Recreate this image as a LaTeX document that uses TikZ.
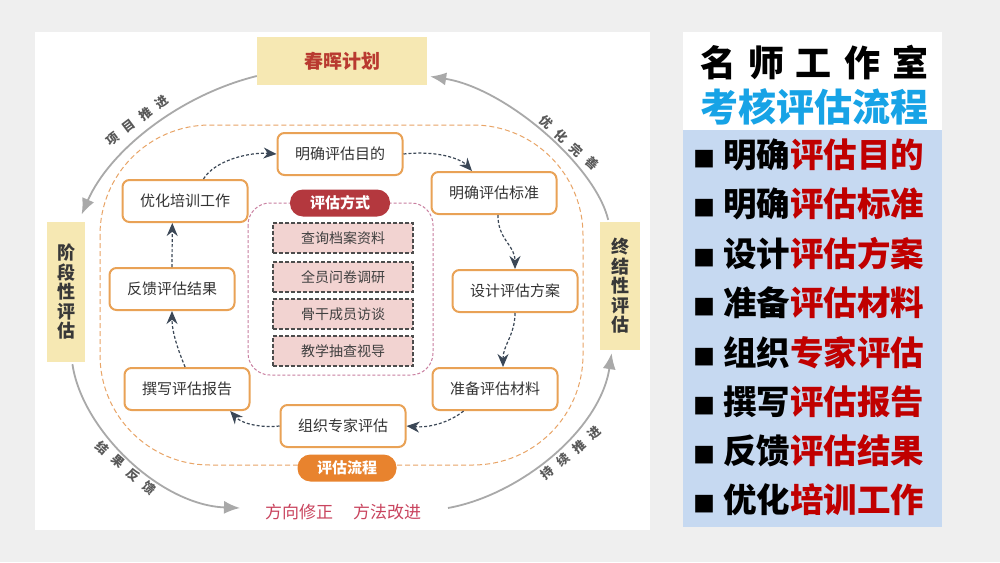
\documentclass[tikz,border=0pt]{standalone}
\usepackage{fontspec}
\setmainfont{Noto Sans CJK SC}
\usepackage{tikz}
\usetikzlibrary{arrows.meta}
\usetikzlibrary{positioning,calc}

\definecolor{bggrayc}{HTML}{EFEFEF}
\definecolor{boxorangec}{HTML}{E9A256}
\definecolor{flowlinec}{HTML}{E8A466}
\definecolor{flowfillc}{HTML}{E8832E}
\definecolor{yellowboxc}{HTML}{F6E8B3}
\definecolor{planredc}{HTML}{B93A30}
\definecolor{wayredc}{HTML}{B4383E}
\definecolor{waypinkc}{HTML}{F2D3D1}
\definecolor{wayframec}{HTML}{C97FA0}
\definecolor{arcgrayc}{HTML}{A9A9A9}
\definecolor{stepdarkc}{HTML}{3B4756}
\definecolor{fixredc}{HTML}{C9445E}
\definecolor{panelbluec}{HTML}{C6D9F1}
\definecolor{titlecyanc}{HTML}{17A3E6}
\definecolor{itemredc}{HTML}{C00000}

\tikzset{
  procbox/.style={draw=boxorangec, line width=2pt, fill=white, rounded corners=7pt,
    minimum width=125pt, minimum height=42pt, inner sep=0pt,
    font=\fontsize{15}{18}\selectfont, text=black!80},
  stagebox/.style={fill=yellowboxc, align=center, inner sep=0pt,
    font=\bfseries\fontsize{18}{19.5}\selectfont, text=black!78},
  waybox/.style={draw=black!70, dash pattern=on 4pt off 2pt, line width=1.5pt, fill=waypinkc,
    minimum width=140pt, minimum height=30pt, inner sep=0pt,
    font=\fontsize{14}{16}\selectfont, text=black!75},
  waypill/.style={fill=wayredc, rounded corners=13pt, minimum width=100pt, minimum height=27pt,
    inner sep=0pt, font=\bfseries\fontsize{15}{17}\selectfont, text=white},
  flowpill/.style={fill=flowfillc, rounded corners=13pt, minimum width=99pt, minimum height=27pt,
    inner sep=0pt, font=\bfseries\fontsize{15}{17}\selectfont, text=white},
  flowarrow/.style={draw=stepdarkc, line width=1.2pt, dash pattern=on 3pt off 2pt,
    -{Stealth[length=13pt,width=11pt]}},
  arcarrow/.style={draw=arcgrayc, line width=1.8pt, -{Latex[length=16pt,width=13pt]}},
  arclabel/.style={font=\bfseries\fontsize{12.5}{14}\selectfont, text=black!65, inner sep=0pt},
  fixtext/.style={font=\fontsize{17}{19}\selectfont, text=fixredc, inner sep=0pt},
  itemtext/.style={font=\bfseries\fontsize{33.5}{36}\selectfont, text=black, inner sep=0pt, anchor=west}
}

\begin{document}
\begin{tikzpicture}[x=1pt, y=-1pt]

 \def\gap{8pt};

	%background and panels
    \fill[bggrayc] (0,0) rectangle (1000,562);
    \useasboundingbox (0,0) rectangle (1000,562);
    \fill[white] (35,32) rectangle (650,530);
    \fill[white] (683,32) rectangle (942,130);
    \fill[panelbluec] (683,130) rectangle (942,527);

	%plan and stages
    \node[stagebox, minimum width=170pt, minimum height=48pt, text=planredc,
          font=\bfseries\fontsize{19}{22}\selectfont] (plan) at (342,61) {春晖计划};
    \node[stagebox, minimum width=38pt, minimum height=140pt] (stage) at (66,292) {阶\\段\\性\\评\\估};
    \node[stagebox, minimum width=40pt, minimum height=128pt] (final) at (620,286) {终\\结\\性\\评\\估};

    \coordinate (fbend) at (240,508);
    \coordinate (gostart) at (448,508);

	%outer arcs
    \draw[arcarrow, shorten >=8pt] (plan.190) .. controls (180,95) and (110,150) .. (stage.80);
    \draw[arcarrow, shorten <=2pt] (stage.-85) .. controls (82,430) and (160,505) .. (fbend);
    \draw[arcarrow, shorten >=3pt] (gostart) .. controls (520,495) and (600,430) .. (final.-97);
    \draw[arcarrow, shorten >=3pt, shorten <=2pt] (final.100) .. controls (595,165) and (505,88) .. (plan.-10);

    \node[arclabel, rotate=37] (lab1) at (137,120) {项\hspace{\gap}目\hspace{\gap}推\hspace{\gap}进};
    \node[arclabel, rotate=-42] (lab2) at (569,143) {优\hspace{\gap}化\hspace{\gap}完\hspace{\gap}善};
    \node[arclabel, rotate=-41] (lab3) at (126,468) {结\hspace{\gap}果\hspace{\gap}反\hspace{\gap}馈};
    \node[arclabel, rotate=40] (lab4) at (571,453) {持\hspace{\gap}续\hspace{\gap}推\hspace{\gap}进};

	%flow frame
    \draw[flowlinec, line width=1pt, dash pattern=on 5pt off 3pt, rounded corners=110pt] (100,125) rectangle (583,465);

	%process boxes
    \foreach \name/\x/\y/\txt in {mq1/340/154/明确评估目的, mq2/494/193/明确评估标准, sj/515/291/设计评估方案,
                                  zb/495/389/准备评估材料, zz/343/426/组织专家评估, zx/187/389/撰写评估报告,
                                  fk/172/289/反馈评估结果, yh/185/201/优化培训工作}{
        \node[procbox] (\name) at (\x,\y) {\txt};
    }

	%ways
    \draw[wayframec, line width=1pt, dash pattern=on 3pt off 2pt, rounded corners=22pt] (248,203) rectangle (433,375);
    \foreach \name/\y/\txt in {w1/238/查询档案资料, w2/277/全员问卷调研, w3/314/骨干成员访谈, w4/351/教学抽查视导}{
        \node[waybox] (\name) at (343,\y) {\txt};
    }
    \node[waypill] (way) at (340,203) {评估方式};
    \node[flowpill] (flow) at (347,468) {评估流程};

	%flow arrows
    \draw[flowarrow] (mq1.east) .. controls (440,150) and (462,160) .. (mq2.135);
    \draw[flowarrow] (mq2.-80) .. controls (498,240) and (515,245) .. (sj.north);
    \draw[flowarrow] (sj.south) .. controls (515,335) and (503,345) .. (zb.70);
    \draw[flowarrow] (zb.215) .. controls (450,422) and (430,428) .. (zz.east);
    \draw[flowarrow] (zz.west) .. controls (262,428) and (242,424) .. (zx.-27);
    \draw[flowarrow] (zx.95) .. controls (176,345) and (172,330) .. (fk.south);
    \draw[flowarrow] (fk.north) -- (yh.-120);
    \draw[flowarrow] (yh.50) .. controls (215,160) and (250,152) .. (mq1.west);

	%bottom texts
    \node[fixtext] (dir) at (299,512) {方向修正};
    \node[fixtext] (meth) at (387,512) {方法改进};

	%right panel
    \node[font=\bfseries\fontsize{36}{40}\selectfont] (title) at (814,63) {名\hspace{12pt}师\hspace{12pt}工\hspace{12pt}作\hspace{12pt}室};
    \node[font=\bfseries\fontsize{38}{42}\selectfont, text=titlecyanc] (subtitle) at (814,107) {考核评估流程};

    \foreach \i/\blk/\red in {0/明确/评估目的, 1/明确/评估标准, 2/设计/评估方案, 3/准备/评估材料,
                              4/组织/专家评估, 5/撰写/评估报告, 6/反馈/评估结果, 7/优化/培训工作}{
        \node[itemtext] (item\i) at (693,{155+49.3*\i}) {{\fontsize{22}{22}\selectfont ■}\hspace{8pt}\blk{\color{itemredc}\red}};
    }

\end{tikzpicture}
\end{document}
